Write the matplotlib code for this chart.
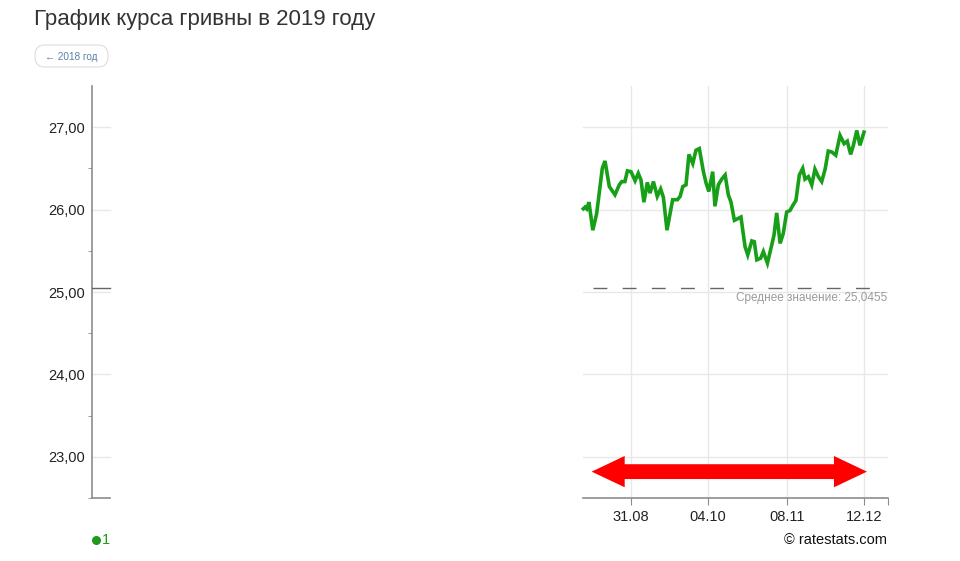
import numpy as np
import matplotlib
matplotlib.use("Agg")
import matplotlib.pyplot as plt
import matplotlib.patches as patches
from matplotlib.lines import Line2D

plt.rcParams['font.family'] = ['Liberation Sans', 'DejaVu Sans']

# day of year 2019 and rate values
days = [221.9, 222.7, 223.4, 224.4, 226.1, 227.8, 230.3, 231.5, 233.4, 235.9,
        237.8, 238.9, 240.3, 241.4, 243.0, 244.8, 246.2, 247.4, 248.7, 250.2,
        251.4, 252.9, 254.6, 256.1, 257.3, 258.9, 261.4, 263.5, 264.7, 265.9,
        267.3, 268.6, 270.3, 271.7, 273.2, 275.0, 276.2, 277.4, 279.1, 280.1,
        281.6, 283.1, 284.6, 286.0, 287.2, 288.7, 290.2, 291.6, 293.4, 294.6,
        296.4, 297.5, 298.6, 300.3, 301.5, 303.3, 305.2, 306.2, 307.4, 308.9,
        310.3, 311.8, 313.3, 314.5, 315.9, 317.4, 318.9, 319.9, 321.4, 322.9,
        324.3, 325.8, 327.3, 328.8, 330.2, 331.7, 333.5, 335.4, 337.2, 338.6,
        340.1, 341.3, 342.8, 344.2, 346.0]
rates = [26.01, 26.03, 26.01, 26.09, 25.75, 25.95, 26.50, 26.59, 26.28, 26.18,
         26.30, 26.34, 26.34, 26.47, 26.46, 26.35, 26.44, 26.36, 26.09, 26.33,
         26.20, 26.34, 26.16, 26.25, 26.15, 25.75, 26.12, 26.12, 26.16, 26.28,
         26.30, 26.67, 26.56, 26.72, 26.74, 26.46, 26.32, 26.22, 26.46, 26.04,
         26.30, 26.37, 26.42, 26.18, 26.09, 25.87, 25.89, 25.91, 25.55, 25.45,
         25.62, 25.61, 25.39, 25.41, 25.49, 25.35, 25.57, 25.69, 25.96, 25.59,
         25.71, 25.97, 25.99, 26.05, 26.11, 26.42, 26.50, 26.37, 26.40, 26.30,
         26.49, 26.40, 26.34, 26.49, 26.71, 26.70, 26.66, 26.90, 26.80, 26.83,
         26.67, 26.78, 26.96, 26.78, 26.94]
mean_value = 25.0455

x_ticks = [243, 277, 312, 346]
x_labels = ['31.08', '04.10', '08.11', '12.12']
y_ticks = [23, 24, 25, 26, 27]
y_labels = ['23,00', '24,00', '25,00', '26,00', '27,00']

fig = plt.figure(figsize=(9.6, 5.61), dpi=100)
ax = fig.add_axes([0.0958, 0.1123, 0.925 - 0.0958, 0.8467 - 0.1123])
x0, x1 = 4.7, 356.6
ax.set_xlim(x0, x1)
ax.set_ylim(22.5, 27.5)

grid_c = '#e8e8e8'
axis_c = '#8c8c8c'
stub_end = x0 + 8
data_left = 221.6

# gridlines
for y in y_ticks:
    ax.plot([data_left, x1], [y, y], color=grid_c, lw=1, zorder=1)
    ax.plot([x0, stub_end], [y, y], color=grid_c, lw=1, zorder=1)
for x in x_ticks:
    ax.axvline(x, color=grid_c, lw=1, zorder=1)

# spines
for s in ['top', 'right', 'bottom']:
    ax.spines[s].set_visible(False)
ax.spines['left'].set_color(axis_c)
ax.spines['left'].set_linewidth(1.2)
ax.plot([data_left, x1], [22.5, 22.5], color=axis_c, lw=1.2, clip_on=False, zorder=3)
ax.plot([x0, stub_end], [22.5, 22.5], color=axis_c, lw=1.2, clip_on=False, zorder=3)

ax.set_yticks(y_ticks)
ax.set_yticklabels(y_labels)
ax.set_yticks([22.5, 23.5, 24.5, 25.5, 26.5], minor=True)
ax.tick_params(axis='y', which='major', length=0, pad=5, labelsize=10.5, labelcolor='#222222')
ax.tick_params(axis='y', which='minor', length=3, color=axis_c, direction='out')
ax.set_xticks(x_ticks + [x1])
ax.set_xticklabels(x_labels + [''])
ax.tick_params(axis='x', length=5, color=axis_c, pad=4, labelsize=10.5, labelcolor='#222222')

# data line
ax.plot(days, rates, color='#17a017', lw=2.6, zorder=4, solid_joinstyle='miter')

# average line
ax.plot([226.2, 353.5], [mean_value, mean_value], color='#666666', lw=1,
        dashes=(10, 11), zorder=3)
ax.plot([x0, stub_end], [mean_value, mean_value], color='#666666', lw=1, zorder=3)
ax.text(x1 - 0.5, mean_value - 0.05, 'Среднее значение: 25,0455', ha='right', va='top',
        fontsize=8.5, color='#9a9a9a')

# red double arrow
yc, hh, sh = 22.82, 0.19, 0.09
xl, xr, hl = 225.6, 347.3, 14.6
arrow = patches.Polygon([(xl, yc), (xl + hl, yc + hh), (xl + hl, yc + sh),
                         (xr - hl, yc + sh), (xr - hl, yc + hh), (xr, yc),
                         (xr - hl, yc - hh), (xr - hl, yc - sh), (xl + hl, yc - sh),
                         (xl + hl, yc - hh)], closed=True, color='#ff0000', lw=0, zorder=5)
ax.add_patch(arrow)

# title and button
fig.text(34 / 960, 1 - 20 / 561, 'График курса гривны в 2019 году', fontsize=16,
         color='#333333', va='center', ha='left')
btn = patches.FancyBboxPatch((35 / 960, 1 - 67 / 561), 73 / 960, 22 / 561,
                             boxstyle='round,pad=0,rounding_size=%f' % (10 / 960),
                             mutation_aspect=960 / 561,
                             transform=fig.transFigure, facecolor='white',
                             edgecolor='#dcdcdc', lw=0.8)
fig.patches.append(btn)
fig.text(71.5 / 960, 1 - 56.5 / 561, '← 2018 год', fontsize=7.2, color='#5b7fa6',
         ha='center', va='center')

# legend and source
fig.add_artist(Line2D([96 / 960], [1 - 540 / 561], marker='o', markersize=5.5,
                      color='#1f9a1f', linestyle='none', transform=fig.transFigure))
fig.text(101.5 / 960, 1 - 540 / 561, '1', fontsize=10.5, color='#1f9a1f', ha='left', va='center')
fig.text(887 / 960, 1 - 540 / 561, '© ratestats.com', fontsize=10.5, color='#111111',
         ha='right', va='center')

fig.savefig('out.png', dpi=100, facecolor='white')
